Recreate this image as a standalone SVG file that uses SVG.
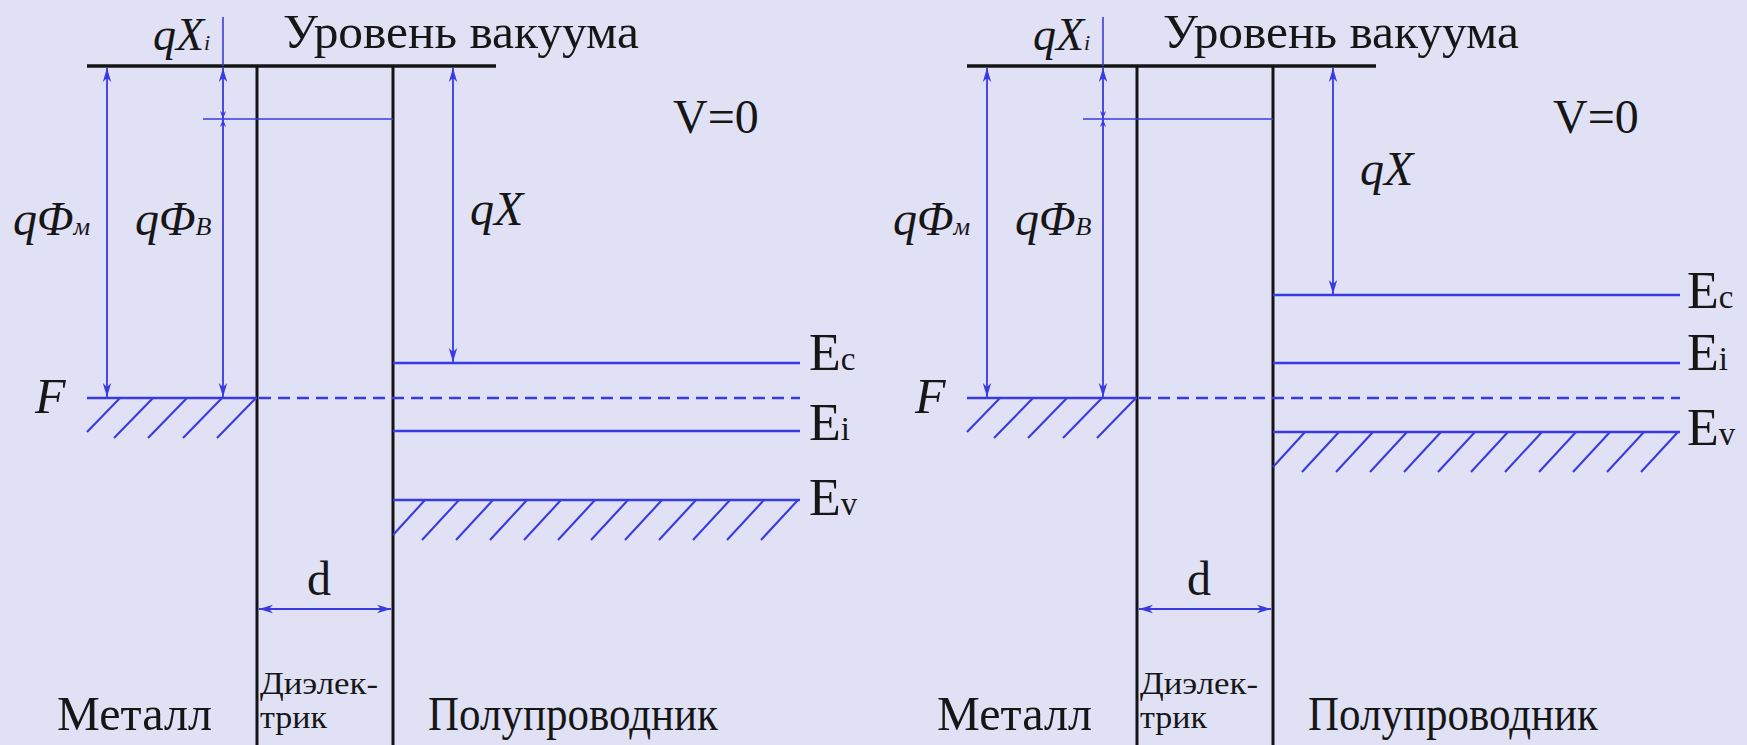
<svg xmlns="http://www.w3.org/2000/svg" width="1747" height="745" viewBox="0 0 1747 745" font-family="'Liberation Serif', 'Times New Roman', 'DejaVu Serif', serif">
<defs>
<style>
.blk{stroke:#141414;stroke-width:3.5;fill:none}
.wall{stroke:#141414;stroke-width:3;fill:none}
.bl{stroke:#3a3ae2;stroke-width:2.3;fill:none}
.thin{stroke:#3a3ae2;stroke-width:1.6;fill:none}
.dash{stroke:#3a3ae2;stroke-width:2.3;stroke-dasharray:12 7;fill:none}
.hat{stroke:#3a3ae2;stroke-width:2.1;fill:none}
.t{font-family:'Liberation Serif','Times New Roman','DejaVu Serif',serif;fill:#161616}
.i{font-style:italic}
.dim{stroke:#3a3ae2;stroke-width:1.8;fill:none;marker-start:url(#ah);marker-end:url(#ah)}
.dims{stroke:#3a3ae2;stroke-width:1.8;fill:none;marker-start:url(#as);marker-end:url(#ah)}
</style>
<marker id="ah" markerUnits="userSpaceOnUse" markerWidth="16" markerHeight="10" refX="14" refY="5" orient="auto-start-reverse" viewBox="0 0 16 10"><path d="M0,0.8 L14,5 L0,9.2 L4,5 Z" fill="#3a3ae2"/></marker>
<marker id="as" markerUnits="userSpaceOnUse" markerWidth="10" markerHeight="8" refX="8" refY="4" orient="auto-start-reverse" viewBox="0 0 10 8"><path d="M0,1 L8,4 L0,7 L2.5,4 Z" fill="#3a3ae2"/></marker>
</defs>
<rect x="0" y="0" width="1747" height="745" fill="#e1e1f6"/>

<!-- LEFT DIAGRAM -->
<g id="left-structure">
  <line class="blk" x1="87" y1="66" x2="496" y2="66"/>
  <line class="wall" x1="257" y1="66" x2="257" y2="745"/>
  <line class="wall" x1="393" y1="66" x2="393" y2="745"/>
</g>
<g id="left-metal">
  <line class="bl" x1="87" y1="398" x2="257" y2="398"/>
  <path class="hat" d="M120,398 L87,432 M153,398 L114,438 M187,398 L148,438 M222,398 L183,438 M256,398 L217,438"/>
  <text class="t i" x="35" y="413" font-size="50">F</text>
</g>
<g id="left-dielectric">
  <line class="thin" x1="203" y1="119" x2="393" y2="119"/>
</g>
<g id="left-semiconductor">
  <line class="dash" x1="259" y1="398" x2="800" y2="398"/>
  <line class="bl" x1="393" y1="363" x2="800" y2="363"/>
  <line class="bl" x1="393" y1="431" x2="800" y2="431"/>
  <line class="bl" x1="393" y1="500" x2="800" y2="500"/>
  <path class="hat" d="M425,500 L393,535 M459,500 L422,540 M493,500 L456,540 M527,500 L490,540 M561,500 L524,540 M595,500 L558,540 M628,500 L591,540 M662,500 L625,540 M696,500 L659,540 M730,500 L693,540 M764,500 L727,540 M798,500 L761,540"/>
  <text class="t" x="809" y="370" font-size="52">E<tspan font-size="33">c</tspan></text>
  <text class="t" x="809" y="440" font-size="52">E<tspan font-size="33">i</tspan></text>
  <text class="t" x="809" y="515" font-size="52">E<tspan font-size="33">v</tspan></text>
</g>
<g id="left-labels">
  <text class="t" x="283" y="48" font-size="48" textLength="356" lengthAdjust="spacingAndGlyphs">Уровень вакуума</text>
  <text class="t i" x="153" y="50" font-size="46">qX<tspan font-size="22">i</tspan></text>
  <text class="t i" x="13" y="235" font-size="48">qΦ<tspan font-size="26">м</tspan></text>
  <text class="t i" x="135" y="235" font-size="48">qΦ<tspan font-size="26">B</tspan></text>
  <text class="t i" x="470" y="225" font-size="48">qX</text>
  <text class="t" x="673" y="133" font-size="48">V=0</text>
  <text class="t" x="307" y="595" font-size="48">d</text>
  <text class="t" x="57" y="730" font-size="48" textLength="155" lengthAdjust="spacingAndGlyphs">Металл</text>
  <text class="t" x="260" y="694" font-size="32" textLength="118" lengthAdjust="spacingAndGlyphs">Диэлек-</text>
  <text class="t" x="260" y="728" font-size="32" textLength="67" lengthAdjust="spacingAndGlyphs">трик</text>
  <text class="t" x="428" y="730" font-size="48" textLength="290" lengthAdjust="spacingAndGlyphs">Полупроводник</text>
</g>

<!-- RIGHT DIAGRAM -->
<g id="right-structure">
  <line class="blk" x1="967" y1="66" x2="1376" y2="66"/>
  <line class="wall" x1="1137" y1="66" x2="1137" y2="745"/>
  <line class="wall" x1="1273" y1="66" x2="1273" y2="745"/>
</g>
<g id="right-metal">
  <line class="bl" x1="967" y1="398" x2="1137" y2="398"/>
  <path class="hat" d="M1000,398 L967,432 M1033,398 L994,438 M1067,398 L1028,438 M1102,398 L1063,438 M1136,398 L1097,438"/>
  <text class="t i" x="915" y="413" font-size="50">F</text>
</g>
<g id="right-dielectric">
  <line class="thin" x1="1083" y1="119" x2="1273" y2="119"/>
</g>
<g id="right-semiconductor">
  <line class="dash" x1="1139" y1="398" x2="1680" y2="398"/>
  <line class="bl" x1="1273" y1="295" x2="1680" y2="295"/>
  <line class="bl" x1="1273" y1="363" x2="1680" y2="363"/>
  <line class="bl" x1="1273" y1="432" x2="1680" y2="432"/>
  <path class="hat" d="M1305,432 L1273,467 M1339,432 L1302,472 M1373,432 L1336,472 M1407,432 L1370,472 M1441,432 L1404,472 M1475,432 L1438,472 M1508,432 L1471,472 M1542,432 L1505,472 M1576,432 L1539,472 M1610,432 L1573,472 M1644,432 L1607,472 M1678,432 L1641,472"/>
  <text class="t" x="1687" y="308" font-size="52">E<tspan font-size="33">c</tspan></text>
  <text class="t" x="1687" y="370" font-size="52">E<tspan font-size="33">i</tspan></text>
  <text class="t" x="1687" y="445" font-size="52">E<tspan font-size="33">v</tspan></text>
</g>
<g id="right-labels">
  <text class="t" x="1163" y="48" font-size="48" textLength="356" lengthAdjust="spacingAndGlyphs">Уровень вакуума</text>
  <text class="t i" x="1033" y="50" font-size="46">qX<tspan font-size="22">i</tspan></text>
  <text class="t i" x="893" y="235" font-size="48">qΦ<tspan font-size="26">м</tspan></text>
  <text class="t i" x="1015" y="235" font-size="48">qΦ<tspan font-size="26">B</tspan></text>
  <text class="t i" x="1360" y="185" font-size="48">qX</text>
  <text class="t" x="1553" y="133" font-size="48">V=0</text>
  <text class="t" x="1187" y="595" font-size="48">d</text>
  <text class="t" x="937" y="730" font-size="48" textLength="155" lengthAdjust="spacingAndGlyphs">Металл</text>
  <text class="t" x="1140" y="694" font-size="32" textLength="118" lengthAdjust="spacingAndGlyphs">Диэлек-</text>
  <text class="t" x="1140" y="728" font-size="32" textLength="67" lengthAdjust="spacingAndGlyphs">трик</text>
  <text class="t" x="1308" y="730" font-size="48" textLength="290" lengthAdjust="spacingAndGlyphs">Полупроводник</text>
</g>

<g id="connectors">
  <line class="dim" x1="107" y1="68" x2="107" y2="397"/>
  <line class="thin" x1="223" y1="17" x2="223" y2="66"/>
  <line class="dims" x1="223" y1="119" x2="223" y2="68"/>
  <line class="dims" x1="223" y1="119" x2="223" y2="397"/>
  <line class="dim" x1="453" y1="68" x2="453" y2="362"/>
  <line class="dim" x1="259" y1="609" x2="391" y2="609"/>
  <line class="dim" x1="987" y1="68" x2="987" y2="397"/>
  <line class="thin" x1="1103" y1="17" x2="1103" y2="66"/>
  <line class="dims" x1="1103" y1="119" x2="1103" y2="68"/>
  <line class="dims" x1="1103" y1="119" x2="1103" y2="397"/>
  <line class="dim" x1="1333" y1="68" x2="1333" y2="294"/>
  <line class="dim" x1="1139" y1="609" x2="1271" y2="609"/>
</g>
</svg>
